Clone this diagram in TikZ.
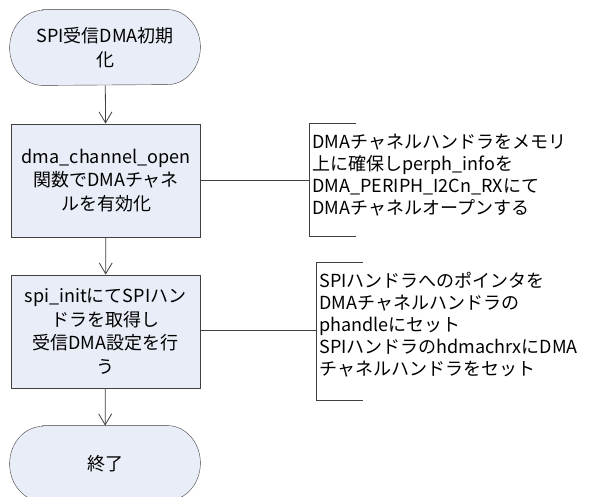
\documentclass[tikz,border=0pt]{standalone}
\usepackage{fontspec}
\setmainfont{Noto Sans CJK JP}
\usetikzlibrary{arrows.meta,backgrounds}
\definecolor{fillc}{RGB}{232,237,247}
\definecolor{linec}{RGB}{64,64,64}
\begin{document}
\begin{tikzpicture}[x=1pt,y=-1pt,line width=0.8pt,
 term/.style={rectangle, minimum width=190pt, minimum height=75pt, inner sep=0pt, align=center, font=\fontsize{18}{23.5}\selectfont},
 termshape/.style={draw=linec, fill=fillc},
 proc/.style={rectangle, draw=linec, fill=fillc, minimum width=189pt, minimum height=113pt, inner sep=0pt, align=center, font=\fontsize{18}{23.5}\selectfont},
 note/.style={anchor=west, align=left, inner sep=0pt, font=\fontsize{18}{22}\selectfont},
 flow/.style={draw=linec, -{Straight Barb[length=11pt,width=13pt]}},
 link/.style={draw=linec}
]
\useasboundingbox (0,0) rectangle (597,497);
\node[term] (start) at (105,47.5) {SPI受信DMA初期\\化};
\node[proc] (p1) at (106,180.5) {dma\_channel\_open\\関数でDMAチャネ\\ルを有効化};
\node[proc] (p2) at (105.5,331.5) {spi\_initにてSPIハン\\ドラを取得し\\受信DMA設定を行\\う};
\node[term] (end) at (105,463.5) {終了};
\begin{scope}[on background layer]
\foreach \t in {start,end}{
  \draw[termshape] ([xshift=33pt]\t.north west) -- ([xshift=-33pt]\t.north east)
    arc[start angle=90,end angle=-90,x radius=33pt,y radius=37.5pt]
    -- ([xshift=33pt]\t.south west)
    arc[start angle=270,end angle=90,x radius=33pt,y radius=37.5pt] -- cycle;
}
\end{scope}
\draw[flow] (start) -- (p1);
\draw[flow] (p1) -- (p2);
\draw[flow] (p2) -- (end);
% annotation 1
\coordinate (b1) at (309,180.5);
\draw[link] (356,123) -| (309,236) -- (356,236);
\draw[link] (p1.east) -- (b1);
\node[note] (n1) at (312,175) {DMAチャネルハンドラをメモリ\\上に確保しperph\_infoを\\DMA\_PERIPH\_I2Cn\_RXにて\\DMAチャネルオープンする};
% annotation 2
\coordinate (b2) at (316,330);
\draw[link] (363,262) -| (316,400) -- (363,400);
\draw[link] (p2.east |- b2) -- (b2);
\node[note] (n2) at (319,324.5) {SPIハンドラへのポインタを\\DMAチャネルハンドラの\\phandleにセット\\SPIハンドラのhdmachrxにDMA\\チャネルハンドラをセット};
\end{tikzpicture}
\end{document}
